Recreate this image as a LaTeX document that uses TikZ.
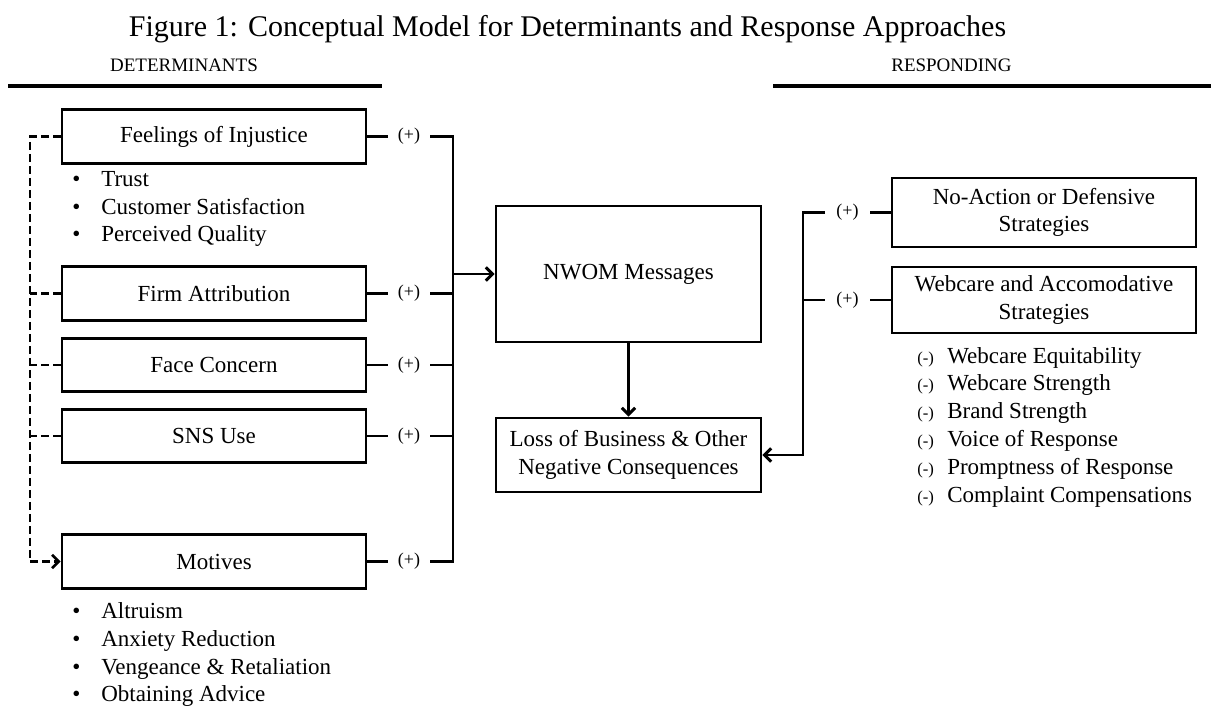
\documentclass[tikz,border=0pt]{standalone}
\usepackage{fontspec}
\setmainfont{Liberation Serif}
\usetikzlibrary{arrows.meta}
\newcommand\FSmain{\fontsize{17.25}{20.6}\selectfont}
\newcommand\FSplus{\fontsize{13.5}{15}\selectfont}
\newcommand\FSminus{\fontsize{12.5}{14}\selectfont}
\newcommand\FShead{\fontsize{14.25}{17}\selectfont}
\newcommand\FStitle{\fontsize{22.5}{27}\selectfont}
\begin{document}
\begin{tikzpicture}[x=0.75pt,y=-0.75pt,
  bx/.style={draw, line width=2.2pt, inner sep=0pt, align=center, font=\FSmain},
  lbox/.style={bx, minimum width=228pt, minimum height=40pt},
  conn/.style={line width=2.2pt},
  arr/.style={conn, -{Straight Barb[length=5pt,width=10pt]}},
  dsh/.style={line width=2pt, dash pattern=on 6pt off 3pt},
  pl/.style={inner sep=0pt, minimum width=31.5pt, minimum height=14pt, font=\FSplus},
  itm/.style={anchor=base west, inner sep=0pt, font=\FSmain},
  rule/.style={line width=3pt}]
\useasboundingbox (0,0) rectangle (1211,706);
% title and headers
\node[anchor=base, inner sep=0pt, font=\FStitle] (title) at (567.5,37) {Figure 1: Conceptual Model for Determinants and Response Approaches};
\node[anchor=base, inner sep=0pt, font=\FShead] (hdet) at (184,72) {DETERMINANTS};
\node[anchor=base, inner sep=0pt, font=\FShead] (hres) at (951.5,72) {RESPONDING};
\draw[rule] (8,86) -- (382,86);
\draw[rule] (773,86) -- (1211,86);
% left boxes
\node[lbox] (feel) at (214,136.5) {Feelings of Injustice};
\node[lbox] (firm) at (214,293.5) {Firm Attribution};
\node[lbox] (face) at (214,365) {Face Concern};
\node[lbox] (sns) at (214,436) {SNS Use};
\node[lbox] (mot) at (214,561.5) {Motives};
% bullet lists
\foreach \t/\y in {Trust/187, Customer Satisfaction/214.5, Perceived Quality/242,
                   Altruism/618, Anxiety Reduction/646, Vengeance \& Retaliation/674, Obtaining Advice/701.5}{
  \node[itm] at (72,\y) {•};
  \node[itm] at (101,\y) {\t};
}
% plus labels left
\node[pl] (pF) at (409,136.5) {(+)};
\node[pl] (pA) at (409,293.5) {(+)};
\node[pl] (pC) at (409,365) {(+)};
\node[pl] (pS) at (409,436) {(+)};
\node[pl] (pM) at (409,561.5) {(+)};
% centre boxes
\node[bx, minimum width=198.75pt, minimum height=102pt] (nwom) at (628.5,274) {NWOM Messages};
\node[bx, minimum width=198.75pt, minimum height=55.5pt] (loss) at (628.5,455) {Loss of Business \& Other\\Negative Consequences};
% right boxes
\node[bx, minimum width=228pt, minimum height=51.75pt] (noact) at (1044,212.5) {No-Action or Defensive\\Strategies};
\node[bx, minimum width=228pt, minimum height=49.5pt] (webc) at (1044,300) {Webcare and Accomodative\\Strategies};
\node[pl, minimum width=33.75pt] (qN) at (847.5,212.5) {(+)};
\node[pl, minimum width=33.75pt] (qW) at (847.5,300) {(+)};
% webcare list
\foreach \t/\y in {Webcare Equitability/363, Webcare Strength/390.5, Brand Strength/418.5,
                   Voice of Response/446.5, Promptness of Response/474.5, Complaint Compensations/502}{
  \node[itm, font=\FSminus] at (917,\y) {(-)};
  \node[itm] at (947,\y) {\t};
}
% coordinates for buses
\coordinate (bus) at (453,0);
\coordinate (rbus) at (803,0);
\coordinate (dbus) at (30,0);
% left connectors
\foreach \b/\p in {feel/pF, firm/pA, face/pC, sns/pS, mot/pM}{
  \draw[conn] (\b.east) -- (\p.west);
}
\draw[conn] (pF.east) -- (pF.east -| bus) -- (pM.east -| bus) -- (pM.east);
\draw[conn] (pA.east) -- (pA.east -| bus);
\draw[conn] (pC.east) -- (pC.east -| bus);
\draw[conn] (pS.east) -- (pS.east -| bus);
\draw[arr] (nwom.west -| bus) -- (nwom.west);
% dashed links
\draw[dsh] (feel.west) -- (feel.west -| dbus) -- (mot.west -| dbus);
\draw[dsh, -{Straight Barb[length=5pt,width=10pt]}] (mot.west -| dbus) -- (mot.west);
\draw[dsh] (firm.west) -- (firm.west -| dbus);
\draw[dsh] (face.west) -- (face.west -| dbus);
\draw[dsh] (sns.west) -- (sns.west -| dbus);
% centre arrow
\draw[arr] (nwom.south) -- (loss.north);
% right connectors
\draw[conn] (noact.west) -- (qN.east);
\draw[conn] (webc.west) -- (qW.east);
\draw[arr] (qN.west) -- (qN.west -| rbus) -- (loss.east -| rbus) -- (loss.east);
\draw[conn] (qW.west) -- (qW.west -| rbus);
\end{tikzpicture}
\end{document}
